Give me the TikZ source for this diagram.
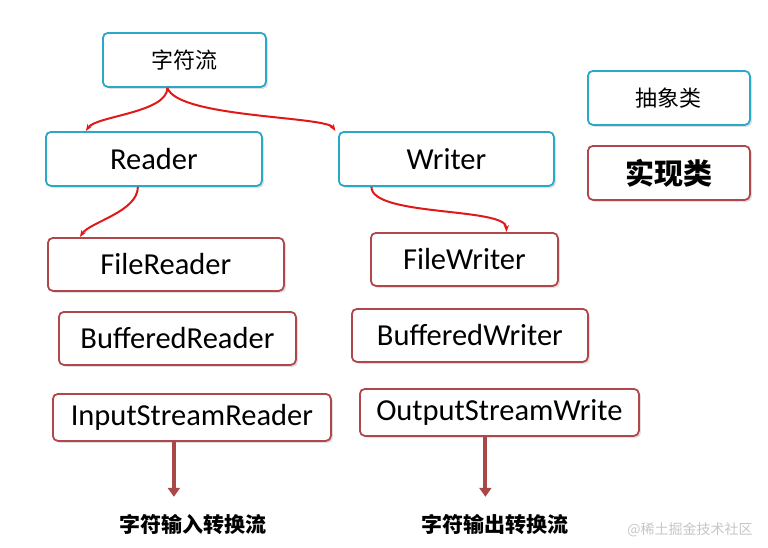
\documentclass[tikz,border=0pt]{standalone}
\usepackage{fontspec}
\setmainfont{Carlito}
\newfontfamily\cjk{Noto Sans CJK SC}
\usetikzlibrary{shadows,arrows.meta}
\definecolor{cy}{HTML}{2AA8C8}
\definecolor{rd}{HTML}{B0474A}
\definecolor{ar}{HTML}{E01818}
\definecolor{dr}{HTML}{A84848}
\tikzset{
 bx/.style={draw,line width=1.8pt,rounded corners=5pt,fill=white,drop shadow={opacity=0.25,shadow xshift=2pt,shadow yshift=-2pt},anchor=north west,inner sep=0pt,font=\fontsize{30.5}{34}\selectfont},
 abs/.style={bx,draw=cy},
 imp/.style={bx,draw=rd},
 cv/.style={ar,line width=2pt,-{Stealth[length=7pt]}},
 dv/.style={dr,line width=4pt,-{Triangle[length=9pt,width=12pt]}},
 lab/.style={font=\cjk\bfseries\fontsize{21}{24}\selectfont}
}
\begin{document}
\begin{tikzpicture}[x=1pt,y=-1pt]
\useasboundingbox (0,0) rectangle (768,547);
\node[abs,minimum width=163pt,minimum height=54pt,font=\cjk\fontsize{22}{26}\selectfont] (zf) at (102,32) {字符流};
\node[abs,minimum width=162pt,minimum height=54pt,font=\cjk\fontsize{22}{26}\selectfont] (cx) at (587,70) {抽象类};
\node[imp,minimum width=162pt,minimum height=54pt,font=\cjk\bfseries\fontsize{29}{33}\selectfont] (sx) at (587,145) {实现类};
\node[abs,minimum width=216pt,minimum height=54pt] (rd) at (45,131) {Reader};
\node[abs,minimum width=215pt,minimum height=54pt] (wr) at (338,131) {Writer};
\node[imp,minimum width=236pt,minimum height=53pt] (fr) at (47,237) {FileReader};
\node[imp,minimum width=237pt,minimum height=53pt] (br) at (58,311) {BufferedReader};
\node[imp,minimum width=278pt,minimum height=47pt] (ir) at (52,393) {InputStreamReader};
\node[imp,minimum width=187pt,minimum height=53pt] (fw) at (370,232) {FileWriter};
\node[imp,minimum width=236pt,minimum height=53pt] (bw) at (351,308) {BufferedWriter};
\node[imp,minimum width=279pt,minimum height=47pt] (ow) at (359,388) {OutputStreamWrite};
\node[lab] (l1) at (193,524) {字符输入转换流};
\node[lab] (l2) at (495,524) {字符输出转换流};
\node[font=\cjk\fontsize{14}{16}\selectfont,text=gray!45] (wm) at (690,530) {@稀土掘金技术社区};
\coordinate (s1) at ([xshift=-17pt]zf.south);
\coordinate (s2) at ([xshift=-16pt]rd.south);
\coordinate (s3) at ([xshift=-75pt]wr.south);
\draw[cv] (s1) .. controls +(0,25) and +(10,-15) .. ([xshift=-68pt]rd.north);
\draw[cv] (s1) .. controls +(10,30) and +(-10,-15) .. ([xshift=-111pt]wr.north);
\draw[cv] (s2) .. controls +(0,25) and +(10,-15) .. ([xshift=-86pt]fr.north);
\draw[cv] (s3) .. controls +(0,30) and +(0,-25) .. ([xshift=42pt]fw.north);
\draw[dv] ([xshift=-18pt]ir.south) -- ++(0,55);
\draw[dv] ([xshift=-14pt]ow.south) -- ++(0,60);
\end{tikzpicture}
\end{document}
